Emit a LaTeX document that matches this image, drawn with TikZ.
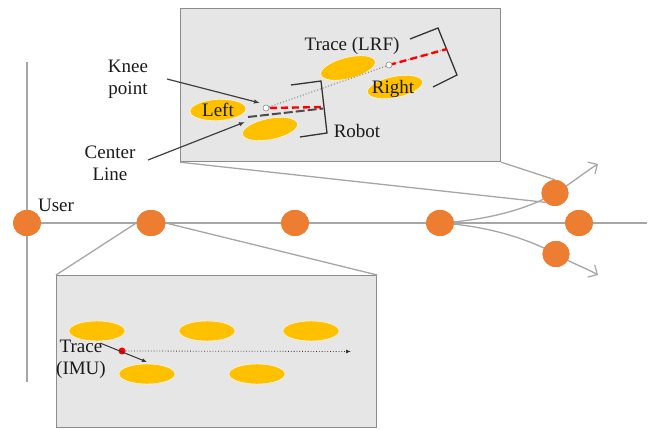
\documentclass[tikz,border=0pt]{standalone}
\usepackage{fontspec}
\setmainfont{Liberation Serif}
\usetikzlibrary{arrows.meta,shapes.geometric}
\definecolor{yel}{HTML}{FFC000}
\definecolor{org}{HTML}{ED7D31}
\definecolor{boxfill}{HTML}{E7E6E6}
\definecolor{boxline}{HTML}{8C8C8C}
\definecolor{lgray}{HTML}{A6A6A6}
\definecolor{txt}{HTML}{1A1A1A}
\tikzset{
  panel/.style={draw=boxline, fill=boxfill, line width=1.2pt, minimum width=320pt, minimum height=153pt, anchor=north west, inner sep=0pt},
  dotnode/.style={ellipse, fill=org, draw=none, minimum width=28pt, minimum height=26pt, inner sep=0pt},
  pad/.style={ellipse, fill=yel, draw=white, line width=0.4pt, minimum width=56pt, minimum height=21pt, inner sep=0pt},
  lbl/.style={text=txt, font=\fontsize{19}{22}\selectfont, inner sep=0pt, align=center},
  wire/.style={draw=lgray, line width=1.3pt},
  pointer/.style={draw=black!75, line width=1.2pt, -{Latex[length=6pt,width=4.5pt]}},
  bracketline/.style={draw=black!80, line width=1.3pt},
  whitedot/.style={circle, fill=white, draw=gray, line width=0.5pt, minimum size=6pt, inner sep=0pt},
  reddash/.style={draw=red, line width=2.4pt, dash pattern=on 7pt off 4pt},
}
\begin{document}
\begin{tikzpicture}[x=1pt,y=-1pt]
\useasboundingbox (0,0) rectangle (651,430);

% panels
\node[panel] (topbox) at (180,8) {};
\node[panel, minimum height=152pt] (botbox) at (56,275) {};

% main axes
\coordinate (vtop) at (27,62);
\coordinate (vbot) at (27,382);
\coordinate (hend) at (647,223);
\draw[wire] (vtop) -- (vbot);

% nodes on axis
\node[dotnode] (user) at (27,223) {};
\node[dotnode, minimum width=29pt] (n2) at (151,223) {};
\node[dotnode] (n3) at (295,223) {};
\node[dotnode] (n4) at (440,223) {};
\node[dotnode, minimum width=27pt] (nUp) at (555,193) {};
\node[dotnode] (nMid) at (579,223) {};
\node[dotnode, minimum width=27pt] (nLow) at (556,254) {};
\coordinate (upEnd) at (598,164);
\coordinate (lowEnd) at (598,275);

\begin{scope}[on background layer/.try]
\end{scope}

\draw[wire] (user.center) -- (hend);
\draw[wire, -{Straight Barb[length=7pt,width=14pt,line width=1.2pt]}]
  (n4.center) .. controls (490,220) and (530,208) .. (nUp.center)
  .. controls (572,183) and (585,172) .. (upEnd);
\draw[wire, -{Straight Barb[length=7pt,width=14pt,line width=1.2pt]}]
  (n4.center) .. controls (490,226) and (530,240) .. (nLow.center)
  .. controls (573,264) and (586,268) .. (lowEnd);

% callout lines
\draw[wire] (topbox.south west) -- (nUp.south west);
\draw[wire] (topbox.south east) -- (nUp.north);
\draw[wire] (n2.west) -- (botbox.north west);
\draw[wire] (n2.east) -- (botbox.north east);

% redraw nodes on top
\foreach \n/\x/\y/\w in {user/27/223/28, n2/151/223/29, n3/295/223/28, n4/440/223/28, nUp/555/193/27, nMid/579/223/28, nLow/556/254/27}{
  \fill[org] (\x,\y) ellipse [x radius=\w/2, y radius=13];
}

\node[lbl] (userlbl) at (56,205) {User};

% ---------- top panel ----------
\node[pad, rotate=14] (eT) at (348,68) {};
\node[pad, rotate=11] (eR) at (395,87) {};
\node[pad, rotate=3] (eL) at (218,110) {};
\node[pad, rotate=11] (eB) at (270,129) {};
\node[lbl] (tRight) at (393,89) {Right};
\node[lbl] (tLeft) at (218,110) {Left};
\node[lbl] (tLRF) at (352,46) {Trace (LRF)};
\node[lbl] (tRobot) at (357,131) {Robot};

% brackets
\coordinate (rb1) at (291,85);
\coordinate (rb2) at (321,81);
\coordinate (rb3) at (327,133);
\coordinate (rb4) at (300,137);
\draw[bracketline] (rb1) -- (rb2) -- (rb3) -- (rb4);
\coordinate (lb1) at (410,39);
\coordinate (lb2) at (438,28);
\coordinate (lb3) at (457,75);
\coordinate (lb4) at (433,87);
\draw[bracketline] (lb1) -- (lb2) -- (lb3) -- (lb4);

% trace lines
\coordinate (knee) at (266,108);
\coordinate (upd) at (389,65);
\coordinate (lrfend) at (447,49);
\coordinate (robend) at (323,107);
\coordinate (cl1) at (248,117);
\coordinate (cl2) at (323,108.5);
\draw[gray, line width=1pt, dotted] (knee) -- (upd) -- (lrfend);
\draw[reddash] (upd) -- (lrfend);
\draw[reddash] ([xshift=4pt]knee) -- (robend);
\draw[black!70, line width=2pt, dash pattern=on 9pt off 3pt] (cl1) -- (cl2);
\node[whitedot] (kneedot) at (knee) {};
\node[whitedot] (updot) at (upd) {};

% labels with pointers
\node[lbl] (tKnee) at (128,79) {Knee\\point};
\node[lbl] (tCenter) at (110,163) {Center\\Line};
\coordinate (kneeFrom) at (167,79);
\coordinate (kneeTo) at (260,103);
\coordinate (clFrom) at (148,160);
\coordinate (clTo) at (245,122);
\draw[pointer] (kneeFrom) -- (kneeTo);
\draw[pointer] (clFrom) -- (clTo);

% ---------- bottom panel ----------
\node[pad, minimum height=20pt] (b1) at (97,331) {};
\node[pad, minimum height=20pt] (b2) at (207,331) {};
\node[pad, minimum height=20pt] (b3) at (311,331) {};
\node[pad, minimum height=20pt] (b4) at (147,374) {};
\node[pad, minimum height=20pt] (b5) at (257,374) {};
\node[lbl] (tIMU) at (81,359) {Trace\\(IMU)};
\node[circle, fill=red, inner sep=0pt, minimum size=7pt] (rdot) at (122,351) {};
\coordinate (dotEnd) at (351,351.5);
\coordinate (imuFrom) at (100,343);
\coordinate (imuTo) at (147,362);
\draw[black!80, line width=0.8pt, dotted, -{Latex[length=5pt,width=4pt]}] (rdot) -- (dotEnd);
\draw[black!80, line width=1pt, -{Latex[length=5pt,width=4pt]}] (imuFrom) -- (imuTo);
\end{tikzpicture}
\end{document}
